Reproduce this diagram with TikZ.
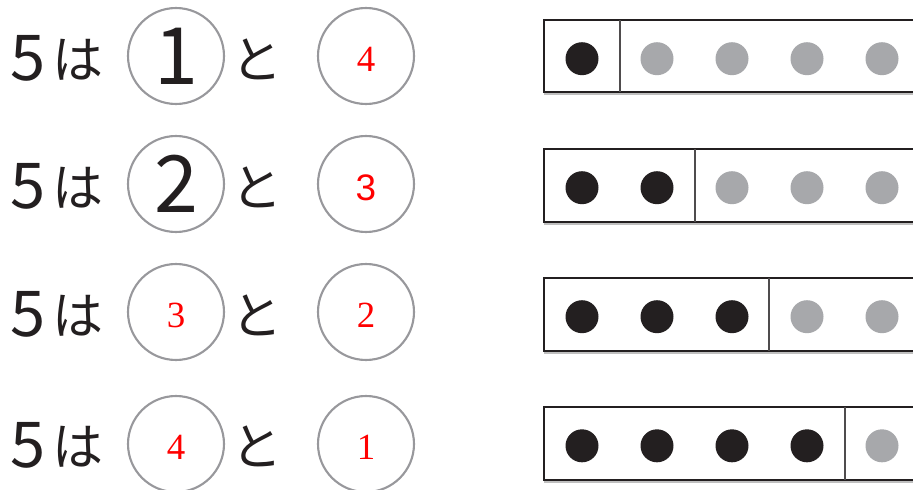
\documentclass[tikz,border=0pt]{standalone}
\usepackage{fontspec}
\usetikzlibrary{shadows}
\newfontfamily\jpfont{Noto Sans CJK JP}
\newfontfamily\numserif{Liberation Serif}
\newfontfamily\numsans{Liberation Sans}
\definecolor{ink}{RGB}{35,31,32}
\definecolor{ringgray}{RGB}{152,152,156}
\definecolor{beadgray}{RGB}{167,168,171}

\begin{document}
\begin{tikzpicture}[x=0.02cm,y=-0.02cm,
    ring/.style={circle,draw=ringgray,line width=1.2pt,minimum size=1.92cm,inner sep=0pt},
    redno/.style={text=red,yshift=-2pt,inner sep=0pt,font=\numserif\fontsize{21}{21}\selectfont},
    bigno/.style={text=ink,inner sep=0pt,font=\jpfont\fontsize{45}{45}\selectfont},
    five/.style={anchor=base,text=ink,inner sep=0pt,font=\jpfont\fontsize{36}{36}\selectfont},
    kana/.style={anchor=base,text=ink,inner sep=0pt,font=\jpfont\fontsize{29}{29}\selectfont},
    tenframe/.style={draw=ink,line width=1.2pt,fill=white,
        drop shadow={shadow xshift=0pt,shadow yshift=-1.5pt,opacity=0.5}},
    divider/.style={draw=ink!80,line width=0.6pt}]
    \clip (0,0) rectangle (913,490);
    % row 1
    \node[five] (five1) at (28,80) {5};
    \node[kana] (ha1) at (78,78) {は};
    \node[ring] (ringa1) at (176,56) {};
    \node[bigno] (numa1) at (ringa1) {1};
    \node[kana] (to1) at (257,78) {と};
    \node[ring] (ringb1) at (366,56) {};
    \node[redno] (numb1) at (ringb1) {4};
    \path[tenframe] (544,20) rectangle (940,92);
    \draw[divider] (620,20) -- (620,92);
    \fill[ink] (582,58.7) circle[radius=0.33cm];
    \fill[beadgray] (657,58.7) circle[radius=0.33cm] (732,58.7) circle[radius=0.33cm]
        (807,58.7) circle[radius=0.33cm] (882,58.7) circle[radius=0.33cm];
    % row 2
    \node[five] (five2) at (28,208) {5};
    \node[kana] (ha2) at (78,206) {は};
    \node[ring] (ringa2) at (176,184) {};
    \node[bigno] (numa2) at (ringa2) {2};
    \node[kana] (to2) at (257,206) {と};
    \node[ring] (ringb2) at (366,184) {};
    \node[redno,font=\numsans\fontsize{21}{21}\selectfont] (numb2) at (ringb2) {3};
    \path[tenframe] (544,149) rectangle (940,222);
    \draw[divider] (695,149) -- (695,222);
    \fill[ink] (582,187.7) circle[radius=0.33cm] (657,187.7) circle[radius=0.33cm];
    \fill[beadgray] (732,187.7) circle[radius=0.33cm] (807,187.7) circle[radius=0.33cm]
        (882,187.7) circle[radius=0.33cm];
    % row 3
    \node[five] (five3) at (28,336) {5};
    \node[kana] (ha3) at (78,334) {は};
    \node[ring] (ringa3) at (176,312) {};
    \node[redno] (numa3) at (ringa3) {3};
    \node[kana] (to3) at (257,334) {と};
    \node[ring] (ringb3) at (366,312) {};
    \node[redno] (numb3) at (ringb3) {2};
    \path[tenframe] (544,278) rectangle (940,351);
    \draw[divider] (769,278) -- (769,351);
    \fill[ink] (582,316.7) circle[radius=0.33cm] (657,316.7) circle[radius=0.33cm]
        (732,316.7) circle[radius=0.33cm];
    \fill[beadgray] (807,316.7) circle[radius=0.33cm] (882,316.7) circle[radius=0.33cm];
    % row 4
    \node[five] (five4) at (28,467) {5};
    \node[kana] (ha4) at (78,465) {は};
    \node[ring] (ringa4) at (176,444) {};
    \node[redno] (numa4) at (ringa4) {4};
    \node[kana] (to4) at (257,465) {と};
    \node[ring] (ringb4) at (366,444) {};
    \node[redno] (numb4) at (ringb4) {1};
    \path[tenframe] (544,407) rectangle (940,480);
    \draw[divider] (845,407) -- (845,480);
    \fill[ink] (582,445.8) circle[radius=0.33cm] (657,445.8) circle[radius=0.33cm]
        (732,445.8) circle[radius=0.33cm] (807,445.8) circle[radius=0.33cm];
    \fill[beadgray] (882,445.8) circle[radius=0.33cm];
\end{tikzpicture}
\end{document}
